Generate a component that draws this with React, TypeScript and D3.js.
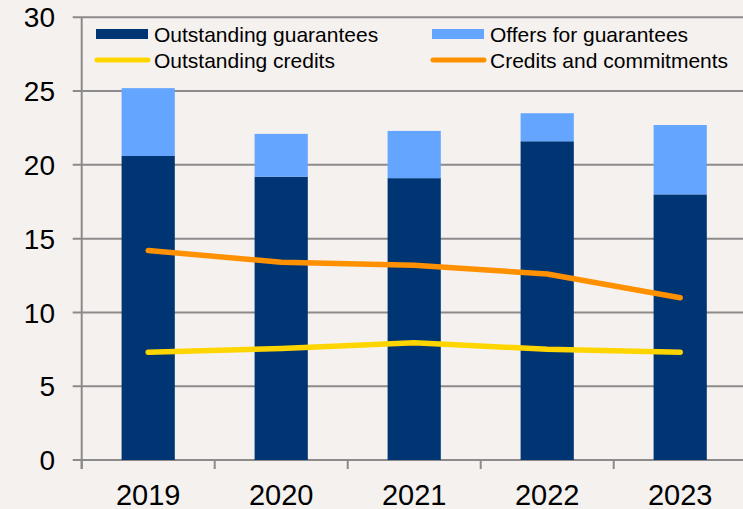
import React from 'react';
import * as d3 from 'd3';

const years = ['2019', '2020', '2021', '2022', '2023'];
const outstandingGuarantees = [20.6, 19.2, 19.1, 21.6, 18.0];
const offersForGuarantees = [4.6, 2.9, 3.2, 1.9, 4.7];
const outstandingCredits = [7.3, 7.55, 7.95, 7.5, 7.3];
const creditsAndCommitments = [14.2, 13.4, 13.2, 12.6, 11.0];
const yTicks = [0, 5, 10, 15, 20, 25, 30];

const W = 743;
const H = 509;
const FONT = '"Liberation Sans", Arial, sans-serif';

const NAVY = '#003574';
const LIGHT = '#64a6ff';
const YELLOW = '#ffd500';
const ORANGE = '#ff9000';
const GRID = '#8c8a8a';

const App: React.FC = () => {
  const margin = { left: 81.7, top: 17.3, bottom: 460 };
  const x = d3.scaleBand<string>().domain(years).range([margin.left, margin.left + 133 * years.length]);
  const y = d3.scaleLinear().domain([0, 30]).range([margin.bottom, margin.top]);
  const barW = x.bandwidth() * 0.4;
  const cx = (yr: string) => (x(yr) || 0) + x.bandwidth() / 2;

  const line = d3.line<number>()
    .x((_, i) => cx(years[i]))
    .y(d => y(d));

  const legend = [
    { label: 'Outstanding guarantees', color: NAVY, kind: 'bar', x: 96, y: 34 },
    { label: 'Offers for guarantees', color: LIGHT, kind: 'bar', x: 432, y: 34 },
    { label: 'Outstanding credits', color: YELLOW, kind: 'line', x: 96, y: 60 },
    { label: 'Credits and commitments', color: ORANGE, kind: 'line', x: 432, y: 60 },
  ];

  return (
    <svg width={W} height={H} style={{ position: 'fixed', left: 0, top: 0, display: 'block' }} fontFamily={FONT}>
      <rect width={W} height={H} fill="#f5f1ef" />

      {/* gridlines */}
      {yTicks.map(t => (
        <line key={`g${t}`} x1={margin.left - 9} x2={W} y1={y(t)} y2={y(t)} stroke={GRID} strokeWidth={2} />
      ))}

      {/* y axis */}
      <line x1={margin.left} x2={margin.left} y1={y(30)} y2={margin.bottom + 9} stroke={GRID} strokeWidth={2} />
      {years.map(yr => (
        <line key={`t${yr}`} x1={x(yr)} x2={x(yr)} y1={margin.bottom} y2={margin.bottom + 9} stroke={GRID} strokeWidth={2} />
      ))}

      {yTicks.map(t => (
        <text key={`yl${t}`} x={55} y={y(t)} dy="0.36em" textAnchor="end" fontSize={28} fill="#000">{t}</text>
      ))}
      {years.map(yr => (
        <text key={`xl${yr}`} x={cx(yr)} y={505} textAnchor="middle" fontSize={29} fill="#000">{yr}</text>
      ))}

      {/* stacked bars */}
      {years.map((yr, i) => (
        <g key={`b${yr}`}>
          <rect x={cx(yr) - barW / 2} width={barW} y={y(outstandingGuarantees[i])}
            height={y(0) - y(outstandingGuarantees[i])} fill={NAVY} />
          <rect x={cx(yr) - barW / 2} width={barW}
            y={y(outstandingGuarantees[i] + offersForGuarantees[i])}
            height={y(outstandingGuarantees[i]) - y(outstandingGuarantees[i] + offersForGuarantees[i])} fill={LIGHT} />
        </g>
      ))}

      {/* lines */}
      <path d={line(outstandingCredits) || ''} fill="none" stroke={YELLOW} strokeWidth={5.5} strokeLinecap="round" strokeLinejoin="round" />
      <path d={line(creditsAndCommitments) || ''} fill="none" stroke={ORANGE} strokeWidth={5.5} strokeLinecap="round" strokeLinejoin="round" />

      {/* legend */}
      {legend.map(l => (
        <g key={l.label}>
          {l.kind === 'bar'
            ? <rect x={l.x} y={l.y - 5} width={52} height={10} fill={l.color} />
            : <line x1={l.x + 1} x2={l.x + 52} y1={l.y} y2={l.y} stroke={l.color} strokeWidth={5} strokeLinecap="round" />}
          <text x={l.x + 58} y={l.y} dy="0.36em" fontSize={21} fill="#000">{l.label}</text>
        </g>
      ))}
    </svg>
  );
};

export default App;
